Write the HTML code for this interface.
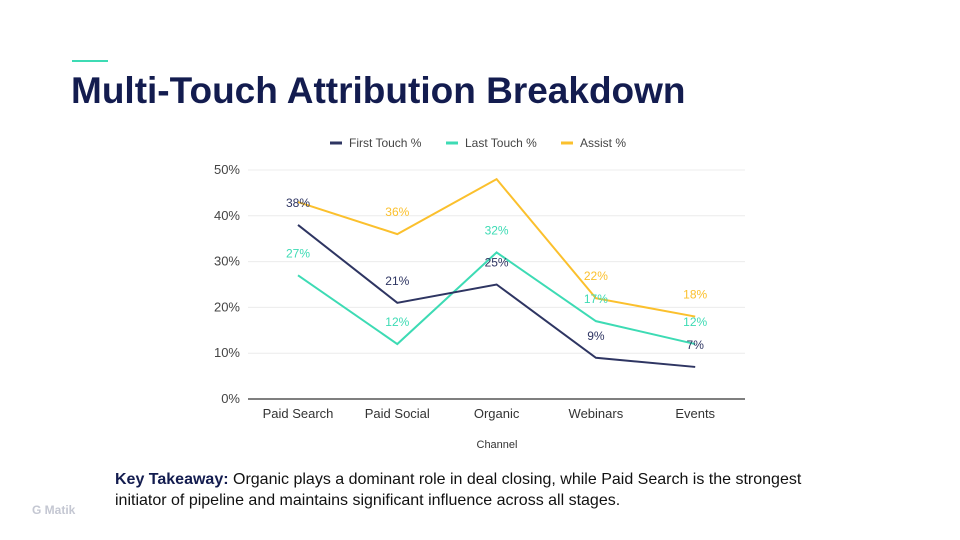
<!DOCTYPE html>
<html><head><meta charset="utf-8"><style>
body{margin:0;width:960px;height:540px;background:#fff;font-family:"Liberation Sans",sans-serif;position:relative;overflow:hidden}
.bar{position:absolute;left:72px;top:60px;width:36px;height:2px;background:#3ddbb4}
h1{position:absolute;left:71px;top:70px;margin:0;font-size:37px;font-weight:bold;color:#131c4f;letter-spacing:0px}
.take{position:absolute;left:115px;top:469px;font-size:16px;line-height:21px;color:#111;width:735px}
.take b{color:#131c4f}
.logo{position:absolute;left:32px;top:503px;font-size:12px;color:#c4c7d2;font-weight:bold}
svg{position:absolute;left:0;top:0}
</style></head><body>
<div class="bar"></div>
<h1>Multi-Touch Attribution Breakdown</h1>
<svg id="chart" width="960" height="540"></svg>
<div class="take"><b>Key Takeaway:</b> Organic plays a dominant role in deal closing, while Paid Search is the strongest initiator of pipeline and maintains significant influence across all stages.</div>
<div class="logo">G Matik</div>
<script>
const categories=["Paid Search","Paid Social","Organic","Webinars","Events"];
const firstTouch=[38,21,25,9,7];
const lastTouch=[27,12,32,17,12];
const assist=[43,36,48,22,18];
const yTicks=[0,10,20,30,40,50];
const seriesNames=["First Touch %","Last Touch %","Assist %"];
const colors=["#2e3562","#3ddbb4","#fbc02d"];
const svg=document.getElementById('chart');const NS="http://www.w3.org/2000/svg";
function x(i){return 298+i*99.3;}
function y(v){return 399-v*4.58;}
function mk(t,a,txt){const e=document.createElementNS(NS,t);for(const k in a)e.setAttribute(k,a[k]);if(txt!=null)e.textContent=txt;svg.appendChild(e);return e;}
yTicks.forEach(t=>{
 const g=mk('line',{x1:248,x2:745,y1:y(t),y2:y(t),stroke:t===0?'#555':'#ececec','stroke-width':t===0?1.5:1});
 
 
 const l=mk('text',{x:240,y:y(t)+4,'text-anchor':'end','font-size':13,fill:'#444'},t+'%');
 
 
});
categories.forEach((c,i)=>{
 const l=mk('text',{x:x(i),y:418,'text-anchor':'middle','font-size':13,fill:'#333'},c);
 
 
});
const xt=mk('text',{x:497,y:448,'text-anchor':'middle','font-size':11,fill:'#333'},'Channel');


const data=[firstTouch,lastTouch,assist];
const lx=[330,446,561];
seriesNames.forEach((n,s)=>{
 const ll=mk('line',{x1:lx[s],x2:lx[s]+12,y1:143,y2:143,stroke:colors[s],'stroke-width':3});
 
 
 const lt=mk('text',{x:lx[s]+19,y:147,'font-size':12,fill:'#444'},n);
 
 
});
[2,1,0].forEach(s=>{
 const p=mk('polyline',{points:data[s].map((v,i)=>x(i)+','+y(v)).join(' '),fill:'none',stroke:colors[s],'stroke-width':2});
 
 
});
data.forEach((arr,s)=>arr.forEach((v,i)=>{
 if(s===2&&(i===0||i===2))return;
 const t=mk('text',{x:x(i),y:y(v)-18,'text-anchor':'middle','font-size':12,fill:s===0?'#2e3562':colors[s]},v+'%');
 
 
}));
</script>
</body></html>
